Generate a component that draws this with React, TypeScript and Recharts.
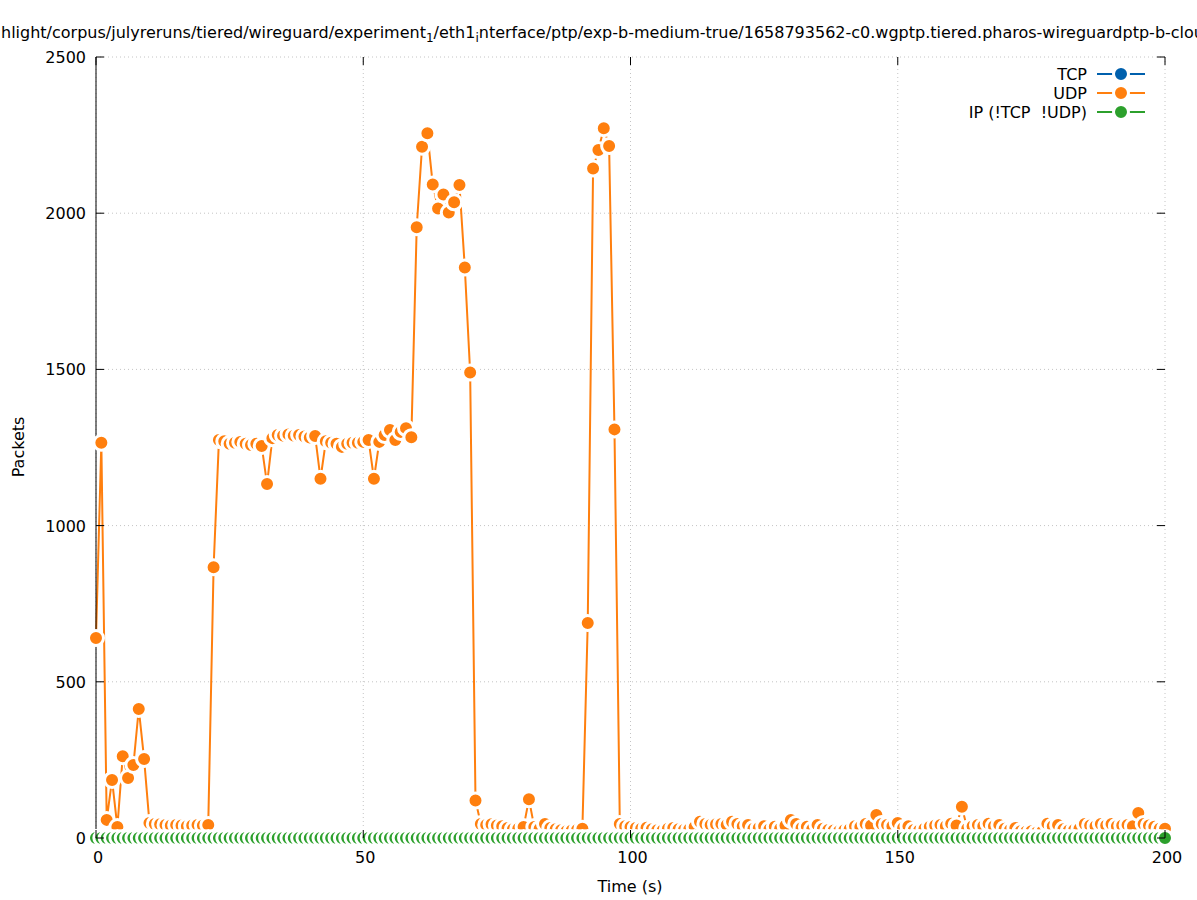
// App.tsx — packets per second on the wireguard ptp capture, gnuplot look-alike.
import { CartesianGrid, Line, LineChart, XAxis, YAxis } from "recharts";

const FONT = "'DejaVu Sans', 'Liberation Sans', sans-serif";
const W = 1197;
const H = 900;
const PLOT = { left: 96, right: 1165, top: 57, bottom: 838 };

const TCP_COLOR = "#0060ad";
const UDP_COLOR = "#ff7f0e";
const IP_COLOR = "#2ca02c";

const X_TICKS = [0, 50, 100, 150, 200];
const Y_TICKS = [0, 500, 1000, 1500, 2000, 2500];

// UDP packets per second, t = 0 .. 200 s
const udpPackets = [
  640, 1265, 58, 186, 35, 262, 192, 234, 413, 253,
  48, 45, 44, 42, 40, 42, 40, 38, 40, 42,
  40, 42, 867, 1274, 1270, 1262, 1265, 1268, 1262, 1258,
  1262, 1255, 1133, 1280, 1290, 1288, 1292, 1288, 1290, 1285,
  1282, 1287, 1150, 1270, 1265, 1262, 1252, 1262, 1265, 1265,
  1268, 1274, 1150, 1268, 1290, 1306, 1274, 1300, 1312, 1283,
  1955, 2213, 2256, 2092, 2015, 2060, 2002, 2035, 2090, 1826,
  1490, 120, 45, 42, 44, 40, 38, 32, 28, 30,
  35, 124, 35, 30, 45, 32, 28, 25, 22, 24,
  26, 30, 688, 2143, 2202, 2272, 2215, 1308, 45, 38,
  35, 32, 30, 33, 28, 25, 24, 30, 32, 28,
  26, 28, 35, 52, 45, 42, 44, 45, 42, 52,
  45, 38, 42, 30, 32, 38, 28, 36, 30, 40,
  58, 45, 32, 36, 28, 42, 30, 26, 24, 22,
  25, 28, 38, 35, 45, 40, 74, 45, 42, 38,
  48, 32, 38, 26, 24, 30, 36, 40, 42, 38,
  46, 40, 100, 30, 38, 42, 38, 46, 38, 42,
  30, 26, 32, 22, 20, 22, 18, 20, 46, 38,
  42, 28, 24, 26, 30, 45, 40, 38, 45, 40,
  45, 38, 40, 42, 38, 80, 45, 40, 36, 30,
  30,
];
const timeS = udpPackets.map((_, i) => i);
const tcpPackets = timeS.map(() => 0);
const ipPackets = timeS.map(() => 0);

const rows = timeS.map((t, i) => ({ t, tcp: tcpPackets[i], udp: udpPackets[i], ip: ipPackets[i] }));

const SERIES = [
  { key: "tcp", name: "TCP", color: TCP_COLOR },
  { key: "udp", name: "UDP", color: UDP_COLOR },
  { key: "ip", name: "IP (!TCP\u00a0\u00a0!UDP)", color: IP_COLOR },
];

function XTick(props: any) {
  const { x, y, payload } = props;
  return (
    <g>
      <line x1={x} y1={y} x2={x} y2={y - 8} stroke="#000" />
      <line x1={x} y1={PLOT.top} x2={x} y2={PLOT.top + 8} stroke="#000" />
      <text x={x + 2} y={y + 25} textAnchor="middle" fontFamily={FONT} fontSize={16} fill="#000">
        {payload.value}
      </text>
    </g>
  );
}

function YTick(props: any) {
  const { x, y, payload } = props;
  return (
    <g>
      <line x1={x} y1={y} x2={x + 8} y2={y} stroke="#000" />
      <line x1={PLOT.right} y1={y} x2={PLOT.right - 8} y2={y} stroke="#000" />
      <text x={x - 10} y={y + 6} textAnchor="end" fontFamily={FONT} fontSize={16} fill="#000">
        {payload.value}
      </text>
    </g>
  );
}

function Overlay() {
  return (
    <svg width={W} height={H} style={{ position: "absolute", left: 0, top: 0, pointerEvents: "none" }}>
      <text x={1} y={38} fontFamily={FONT} fontSize={16} fill="#000">
        hlight/corpus/julyreruns/tiered/wireguard/experiment
        <tspan fontSize={12} dy={4}>1</tspan>
        <tspan dy={-4}>/eth1</tspan>
        <tspan fontSize={12} dy={4}>i</tspan>
        <tspan dy={-4}>nterface/ptp/exp-b-medium-true/1658793562-c0.wgptp.tiered.pharos-wireguardptp-b-clou</tspan>
      </text>
      <text x={630} y={892} textAnchor="middle" fontFamily={FONT} fontSize={16} fill="#000">
        Time (s)
      </text>
      <text
        x={0}
        y={0}
        transform="translate(24 447) rotate(-90)"
        textAnchor="middle"
        fontFamily={FONT}
        fontSize={16}
        fill="#000"
      >
        Packets
      </text>
      {SERIES.map((s, i) => {
        const cy = 74 + i * 19;
        return (
          <g key={s.key}>
            <text x={1087} y={cy + 6} textAnchor="end" fontFamily={FONT} fontSize={16} fill="#000">
              {s.name}
            </text>
            <line x1={1097} y1={cy} x2={1145} y2={cy} stroke={s.color} strokeWidth={2} />
            <circle cx={1121} cy={cy} r={7.5} fill={s.color} stroke="#fff" strokeWidth={3} />
          </g>
        );
      })}
    </svg>
  );
}

export default function App() {
  return (
    <div style={{ position: "absolute", left: 0, top: 0, width: W, height: H, background: "#fff" }}>
      <LineChart
        width={W}
        height={H}
        data={rows}
        margin={{ top: PLOT.top, right: W - PLOT.right, bottom: H - PLOT.bottom - 30, left: 0 }}
      >
        <CartesianGrid stroke="#c4c4c4" strokeDasharray="1 3" />
        <XAxis
          dataKey="t"
          type="number"
          domain={[0, 200]}
          ticks={X_TICKS}
          height={30}
          tickSize={0}
          tickMargin={0}
          axisLine={{ stroke: "#000" }}
          tick={(p: any) => <XTick {...p} />}
        />
        <YAxis
          type="number"
          domain={[0, 2500]}
          ticks={Y_TICKS}
          width={PLOT.left}
          tickSize={0}
          tickMargin={0}
          axisLine={{ stroke: "#000" }}
          tick={(p: any) => <YTick {...p} />}
        />
        {SERIES.map((s) => (
          <Line
            key={s.key}
            dataKey={s.key}
            name={s.name}
            type="linear"
            stroke={s.color}
            strokeWidth={2}
            dot={{ r: 7.5, fill: s.color, stroke: "#fff", strokeWidth: 3 }}
            activeDot={false}
            isAnimationActive={false}
          />
        ))}
      </LineChart>
      <Overlay />
    </div>
  );
}
